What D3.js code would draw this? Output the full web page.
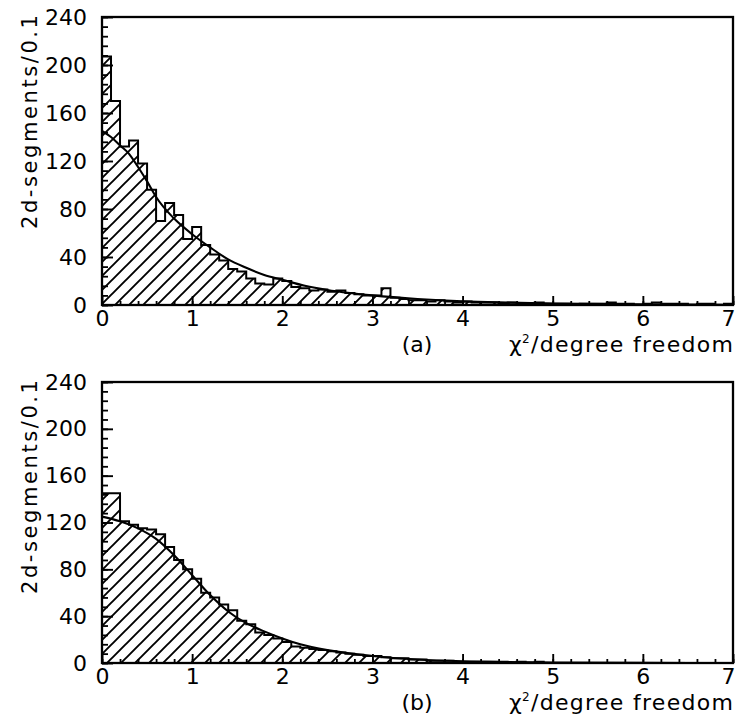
<!DOCTYPE html>
<html>
<head>
<meta charset="utf-8">
<script src="https://cdn.jsdelivr.net/npm/d3@7"></script>
<style>
  body { margin: 0; background: #fff; }
  svg { display: block; }
  text { font-family: "DejaVu Sans", sans-serif; fill: #000; }
</style>
</head>
<body>
<svg id="chart" width="736" height="724"></svg>
<script>
// Histogram bin width (chi^2 per degree of freedom)
const binWidth = 0.1;

// (a) entries per 0.1 bin, 0.0 .. 7.0
const countsA = [
  207, 170, 132, 137, 118,  96,  70,  85,  75,  55,
   65,  50,  42,  37,  30,  28,  22,  18,  17,  22,
   20,  15,  14,  12,  13,  11,  12,  10,   9,   8,
    8,  14,   6,   5,   4,   4,   3,   4,   3,   2,
    3,   2,   2,   2,   1,   2,   1,   1,   2,   1,
    1,   1,   0,   1,   1,   1,   2,   1,   1,   0,
    1,   2,   1,   1,   1,   0,   1,   1,   0,   1
];

// (b) entries per 0.1 bin, 0.0 .. 7.0
const countsB = [
  145, 145, 121, 118, 115, 114, 110,  99,  88,  80,
   72,  60,  56,  50,  45,  36,  33,  26,  24,  21,
   18,  14,  13,  12,  11,  10,   9,   8,   7,   6,
    6,   5,   4,   4,   3,   3,   2,   2,   2,   1,
    1,   1,   1,   1,   1,   0,   1,   0,   1,   0,
    0,   0,   0,   0,   0,   0,   0,   0,   0,   0,
    0,   0,   0,   0,   0,   0,   0,   0,   0,   0
];

// Fitted curves, sampled points (x, entries)
const fitAx = [0, 0.1, 0.2, 0.3, 0.4, 0.5, 0.6, 0.8, 1.0, 1.2, 1.4, 1.6, 1.8, 2.0, 2.25, 2.5, 2.75, 3.0, 3.5, 4.0, 4.5, 5.0, 6.0, 7.0];
const fitAy = [145, 140, 133, 126, 115, 103, 90, 72, 59, 48, 38, 31, 25, 21, 16, 12.5, 10, 8, 5, 3, 2, 1.3, 0.5, 0.2];

const fitBx = [0, 0.2, 0.4, 0.6, 0.8, 1.0, 1.2, 1.4, 1.6, 1.8, 2.0, 2.2, 2.5, 3.0, 3.5, 4.0, 4.5, 5.0, 6.0, 7.0];
const fitBy = [125, 121, 115, 106, 92, 75, 58, 44, 34, 27, 21, 16, 11, 6, 3, 1.5, 0.8, 0.4, 0.1, 0];

// Axis ticks and texts
const xDomain = [0, 7];
const yDomain = [0, 240];
const xMajorTicks = [0, 1, 2, 3, 4, 5, 6, 7];
const xMinorStep = 0.2;
const yMajorTicks = [0, 40, 80, 120, 160, 200, 240];
const yMinorStep = 8;
const panelTags = ["(a)", "(b)"];
const yTitle = "2d-segments/0.1";

const svg = d3.select("#chart");

// Diagonal hatching used to fill the histograms
const defs = svg.append("defs");
const hatch = defs.append("pattern")
  .attr("id", "hatch")
  .attr("patternUnits", "userSpaceOnUse")
  .attr("width", 14).attr("height", 14);
hatch.append("path")
  .attr("d", "M-2,2 L2,-2 M0,14 L14,0 M12,16 L16,12")
  .attr("stroke", "#000").attr("stroke-width", 1.9);

const panels = [
  { counts: countsA, fx: fitAx, fy: fitAy, tag: panelTags[0], x0: 102, x1: 733, top: 17, bottom: 305 },
  { counts: countsB, fx: fitBx, fy: fitBy, tag: panelTags[1], x0: 102, x1: 733, top: 382, bottom: 663 }
];

panels.forEach(p => {
  const x = d3.scaleLinear().domain(xDomain).range([p.x0, p.x1]);
  const y = d3.scaleLinear().domain(yDomain).range([p.bottom, p.top]);
  const g = svg.append("g");

  // Histogram as a stepped outline filled with hatching
  const steps = p.counts.map((c, i) => [i * binWidth, c]);
  steps.push([p.counts.length * binWidth, p.counts[p.counts.length - 1]]);
  const area = d3.area()
    .x(d => x(d[0]))
    .y0(y(0))
    .y1(d => y(d[1]))
    .curve(d3.curveStepAfter);
  g.append("path")
    .datum(steps)
    .attr("d", area)
    .attr("fill", "url(#hatch)")
    .attr("stroke", "#000")
    .attr("stroke-width", 2)
    .attr("stroke-linejoin", "miter");

  // Fitted curve
  const fit = p.fx.map((v, i) => [v, p.fy[i]]);
  g.append("path")
    .datum(fit)
    .attr("d", d3.line().x(d => x(d[0])).y(d => y(d[1])).curve(d3.curveMonotoneX))
    .attr("fill", "none")
    .attr("stroke", "#000")
    .attr("stroke-width", 2.1);

  // Minor ticks (inward)
  const xMinor = d3.range(xDomain[0], xDomain[1] + 1e-9, xMinorStep);
  const yMinor = d3.range(yDomain[0], yDomain[1] + 1e-9, yMinorStep);
  g.append("g")
    .attr("transform", `translate(0,${p.bottom})`)
    .call(d3.axisBottom(x).tickValues(xMinor).tickSize(-4).tickSizeOuter(0).tickFormat(""))
    .call(a => a.select(".domain").remove())
    .call(a => a.selectAll("line").attr("stroke-width", 1.8));
  g.append("g")
    .attr("transform", `translate(${p.x0},0)`)
    .call(d3.axisLeft(y).tickValues(yMinor).tickSize(-6).tickSizeOuter(0).tickFormat(""))
    .call(a => a.select(".domain").remove())
    .call(a => a.selectAll("line").attr("stroke-width", 1.8));

  // Major ticks with labels
  g.append("g")
    .attr("transform", `translate(0,${p.bottom})`)
    .call(d3.axisBottom(x).tickValues(xMajorTicks).tickSize(-9).tickSizeOuter(0).tickPadding(5).tickFormat(d3.format("d")))
    .call(a => a.select(".domain").remove())
    .call(a => a.selectAll("line").attr("stroke-width", 1.9))
    .call(a => a.selectAll("text")
      .attr("font-size", 22)
      .attr("font-family", "DejaVu Sans, sans-serif")
      .attr("fill", "#000"))
    .call(a => a.selectAll("text").filter(d => d === xDomain[1])
      .attr("text-anchor", "end")
      .attr("dx", 2));
  g.append("g")
    .attr("transform", `translate(${p.x0},0)`)
    .call(d3.axisLeft(y).tickValues(yMajorTicks).tickSize(-11).tickSizeOuter(0).tickPadding(15).tickFormat(d3.format("d")))
    .call(a => a.select(".domain").remove())
    .call(a => a.selectAll("line").attr("stroke-width", 1.9))
    .call(a => a.selectAll("text")
      .attr("font-size", 22)
      .attr("font-family", "DejaVu Sans, sans-serif")
      .attr("fill", "#000"));

  // Frame
  g.append("rect")
    .attr("x", p.x0).attr("y", p.top)
    .attr("width", p.x1 - p.x0).attr("height", p.bottom - p.top)
    .attr("fill", "none").attr("stroke", "#000").attr("stroke-width", 2.3);

  // Y title
  const cy = p.top + 105;
  g.append("text")
    .attr("transform", `translate(37,${cy}) rotate(-90)`)
    .attr("text-anchor", "middle")
    .attr("font-size", 21)
    .attr("textLength", 214)
    .attr("lengthAdjust", "spacing")
    .text(yTitle);

  // Panel tag and x title
  g.append("text")
    .attr("x", 417).attr("y", p.bottom + 47)
    .attr("text-anchor", "middle")
    .attr("font-size", 22)
    .text(p.tag);
  const xt = g.append("text")
    .attr("x", 509).attr("y", p.bottom + 47)
    .attr("font-size", 22)
    .attr("textLength", 224)
    .attr("lengthAdjust", "spacing");
  xt.append("tspan").text("\u03C7");
  xt.append("tspan").attr("dy", -9).attr("font-size", 12).attr("dx", -1).text("2");
  xt.append("tspan").attr("dy", 9).text("/degree freedom");
});
</script>
</body>
</html>
